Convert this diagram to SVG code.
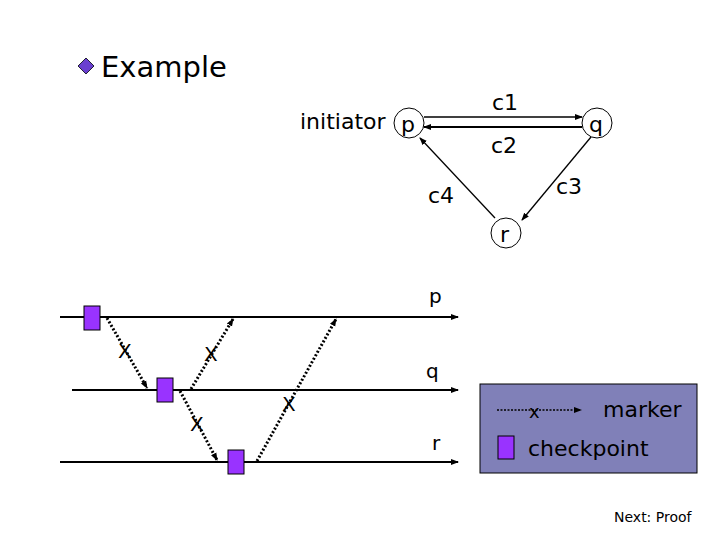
<svg xmlns="http://www.w3.org/2000/svg" width="720" height="540" viewBox="0 0 720 540">
<style>
text{font-family:"DejaVu Sans","Liberation Sans",sans-serif;fill:#000}
.n{fill:none;stroke:#000;stroke-width:1}
.e{stroke:#000;stroke-width:1.3;fill:none;marker-end:url(#a)}
.t{stroke:#000;stroke-width:2;fill:none;marker-end:url(#a)}
.m{stroke:#000;stroke-width:3;stroke-dasharray:2 2;fill:none;marker-end:url(#a)}
.cp{fill:#9933ff;stroke:#000;stroke-width:1}
</style>
<defs><marker id="a" markerWidth="8" markerHeight="8" refX="7" refY="4" orient="auto" markerUnits="userSpaceOnUse"><path d="M0,1 L8,4 L0,7 z" fill="#000"/></marker></defs>
<rect width="720" height="540" fill="#fff"/>
<g id="title"><path d="M86,58 L94,66 L86,74 L78,66 z" fill="#6a3fd0" stroke="#223" stroke-width="1"/><text x="101" y="77" font-size="29">Example</text></g>
<g id="nodeP"><circle cx="409" cy="123" r="15" class="n"/><text x="401" y="132" font-size="22">p</text><text x="300" y="129" font-size="22">initiator</text></g>
<g id="nodeQ"><circle cx="597" cy="123" r="15" class="n"/><text x="589" y="132" font-size="22">q</text></g>
<g id="nodeR"><circle cx="506" cy="233" r="15" class="n"/><text x="500" y="242" font-size="22">r</text></g>
<g id="connectors">
<line x1="424" y1="117" x2="582" y2="117" class="e"/>
<line x1="582" y1="127" x2="424" y2="127" class="t"/>
<line x1="591" y1="137" x2="522" y2="220" class="e"/>
<line x1="495" y1="218" x2="420" y2="138" class="e"/>
<line x1="60" y1="317" x2="458" y2="317" class="t"/>
<line x1="72" y1="390" x2="458" y2="390" class="t"/>
<line x1="60" y1="462" x2="458" y2="462" class="t"/>
<line x1="107" y1="318" x2="147" y2="388" class="m"/>
<line x1="180" y1="391" x2="217" y2="460" class="m"/>
<line x1="191" y1="389" x2="233" y2="319" class="m"/>
<line x1="257" y1="461" x2="336" y2="319" class="m"/>
</g>
<g id="labels" font-size="22">
<text x="492" y="110">c1</text><text x="491" y="153">c2</text>
<text x="556" y="194">c3</text><text x="428" y="203">c4</text>
<text x="429" y="303" font-size="20">p</text><text x="426" y="378" font-size="20">q</text><text x="432" y="450" font-size="20">r</text>
<text x="118" y="358" font-size="20">X</text><text x="204" y="361" font-size="20">X</text><text x="190" y="431" font-size="20">X</text><text x="282" y="411" font-size="20">X</text>
</g>
<g id="checkpoints"><rect x="84" y="306" width="16" height="24" class="cp"/><rect x="157" y="378" width="16" height="24" class="cp"/><rect x="228" y="450" width="16" height="24" class="cp"/></g>
<g id="legend"><rect x="480" y="384" width="217" height="89" fill="#8080b8" stroke="#000"/>
<line x1="497" y1="410" x2="581" y2="410" stroke="#000" stroke-width="1.3" stroke-dasharray="2 1.5" marker-end="url(#a)"/>
<text x="529" y="418" font-size="18">x</text>
<text x="603" y="417" font-size="22">marker</text>
<rect x="498" y="436" width="16" height="23" class="cp"/>
<text x="528" y="456" font-size="22">checkpoint</text></g>
<text x="614" y="522" font-size="14">Next: Proof</text>
</svg>
